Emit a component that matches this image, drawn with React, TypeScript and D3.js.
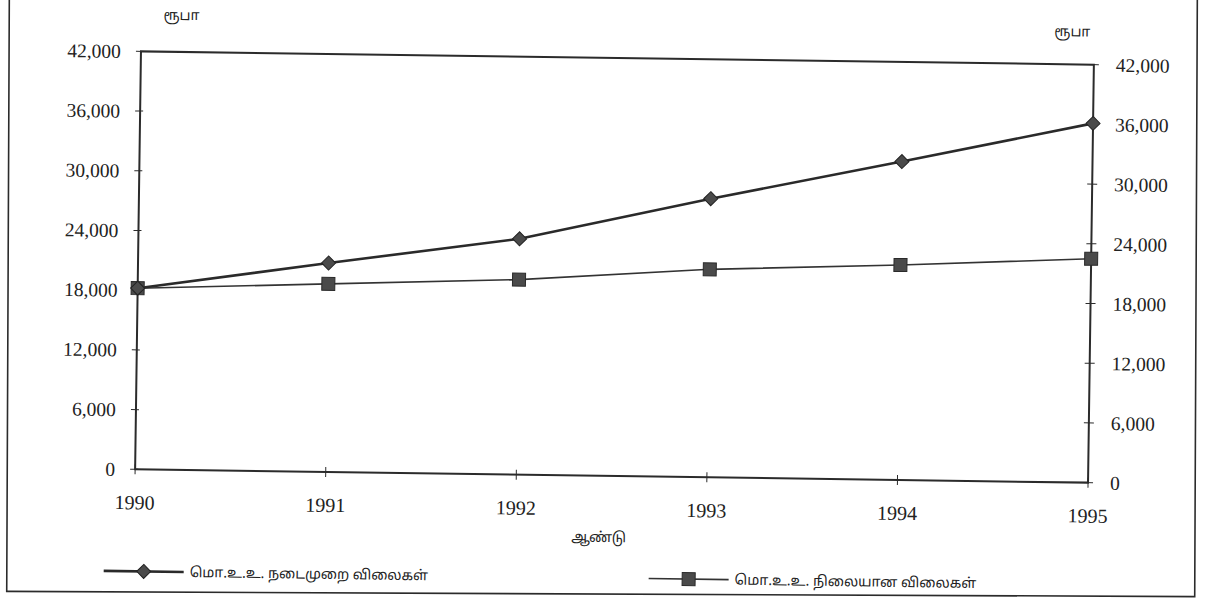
import * as d3 from "d3";

// ஆண்டு வாரியான மொ.உ.உ. (ரூபா)
const years = ["1990", "1991", "1992", "1993", "1994", "1995"];
const currentPrices = [18200, 21000, 23700, 28000, 32000, 36100];
const constantPrices = [18200, 18900, 19600, 20900, 21600, 22500];
const yTicks = [0, 6000, 12000, 18000, 24000, 30000, 36000, 42000];

const unitLabel = "ரூபா";
const xTitle = "ஆண்டு";
const legendCurrent = "மொ.உ.உ. நடைமுறை விலைகள்";
const legendConstant = "மொ.உ.உ. நிலையான விலைகள்";

const W = 1208;
const H = 609;
const margin = { top: 58, right: 117, bottom: 133, left: 138 };
const serif = "'Liberation Serif', 'Times New Roman', serif";
const tamil = "'Noto Sans Tamil', 'Lohit Tamil', 'Latha', 'Noto Sans', sans-serif";
const ink = "#2b2b2b";

const App = () => {
  const x = d3
    .scalePoint<string>()
    .domain(years)
    .range([margin.left, W - margin.right]);
  const y = d3
    .scaleLinear()
    .domain([0, 42000])
    .range([H - margin.bottom, margin.top]);

  const fmt = d3.format(",");
  const line = d3
    .line<number>()
    .x((_, i) => x(years[i]) as number)
    .y((d) => y(d));

  const x0 = margin.left;
  const x1 = W - margin.right;
  const y0 = y(0);
  const yTop = y(42000);
  const cx = (x0 + x1) / 2;
  const cy = (y0 + yTop) / 2;

  const diamond = (px: number, py: number, r: number) =>
    `M${px},${py - r}L${px + r},${py}L${px},${py + r}L${px - r},${py}Z`;

  return (
    <svg
      width={W}
      height={H}
      style={{ position: "absolute", left: 0, top: 0, background: "#fff" }}
    >
      {/* page frame */}
      <rect
        x={8}
        y={-20}
        width={1188}
        height={614}
        fill="none"
        stroke={ink}
        strokeWidth={1.6}
        transform="rotate(0.25, 600, 300)"
      />

      {/* the scan is slightly tilted */}
      <g transform={`rotate(0.8, ${cx}, ${cy})`}>
        {/* plot box: top, left, bottom, right */}
        <path
          d={`M${x0},${y0}V${yTop}H${x1}V${y0}Z`}
          fill="none"
          stroke={ink}
          strokeWidth={2}
        />

        {/* left axis */}
        {yTicks.map((t) => (
          <g key={"l" + t}>
            <line x1={x0 - 5} x2={x0 + 3} y1={y(t)} y2={y(t)} stroke={ink} strokeWidth={1} />
            <text
              x={x0 - 20}
              y={y(t)}
              dy="0.35em"
              textAnchor="end"
              fontFamily={serif}
              fontSize={19.5}
              fill="#222"
            >
              {fmt(t)}
            </text>
          </g>
        ))}

        {/* right axis */}
        {yTicks.map((t) => (
          <g key={"r" + t}>
            <line x1={x1 - 5} x2={x1 + 5} y1={y(t)} y2={y(t)} stroke={ink} strokeWidth={1} />
            <text
              x={x1 + 22}
              y={y(t)}
              dy="0.35em"
              textAnchor="start"
              fontFamily={serif}
              fontSize={19.5}
              fill="#222"
            >
              {fmt(t)}
            </text>
          </g>
        ))}

        {/* x axis */}
        {years.map((yr) => (
          <g key={yr}>
            <line
              x1={x(yr)}
              x2={x(yr)}
              y1={y0 - 5}
              y2={y0 + 5}
              stroke={ink}
              strokeWidth={1}
            />
            <text
              x={x(yr)}
              y={y0 + 33}
              dy="0.35em"
              textAnchor="middle"
              fontFamily={serif}
              fontSize={20}
              fill="#222"
            >
              {yr}
            </text>
          </g>
        ))}

        <text
          x={cx - 12}
          y={y0 + 66}
          textAnchor="middle"
          fontFamily={tamil}
          fontSize={14}
          fill="#222"
        >
          {xTitle}
        </text>
        <text x={x0 + 22} y={yTop - 32} fontFamily={tamil} fontSize={14} fill="#222">
          {unitLabel}
        </text>
        <text
          x={x1 - 4}
          y={yTop - 28}
          textAnchor="end"
          fontFamily={tamil}
          fontSize={14}
          fill="#222"
        >
          {unitLabel}
        </text>

        {/* series */}
        <path d={line(constantPrices) || ""} fill="none" stroke="#333" strokeWidth={1.6} />
        <path d={line(currentPrices) || ""} fill="none" stroke="#2a2a2a" strokeWidth={2.6} />

        {constantPrices.map((v, i) => (
          <rect
            key={"s" + i}
            x={(x(years[i]) as number) - 6.5}
            y={y(v) - 6.5}
            width={13}
            height={13}
            fill="#4a4a4a"
            stroke="#2a2a2a"
            strokeWidth={1}
          />
        ))}
        {currentPrices.map((v, i) => (
          <path
            key={"d" + i}
            d={diamond(x(years[i]) as number, y(v), 7)}
            fill="#4a4a4a"
            stroke="#222"
            strokeWidth={1}
          />
        ))}

        {/* legend */}
        <g transform={`translate(${x0 - 30}, ${y0 + 102})`}>
          <line x1={0} x2={80} y1={0} y2={0} stroke="#2a2a2a" strokeWidth={2.6} />
          <path d={diamond(40, 0, 7)} fill="#4a4a4a" stroke="#222" strokeWidth={1} />
          <text x={86} y={0} dy="0.35em" fontFamily={tamil} fontSize={14} fill="#222">
            {legendCurrent}
          </text>
        </g>
        <g transform={`translate(${x0 + 515}, ${y0 + 102})`}>
          <line x1={0} x2={80} y1={0} y2={0} stroke="#333" strokeWidth={1.6} />
          <rect x={33.5} y={-6.5} width={13} height={13} fill="#4a4a4a" stroke="#2a2a2a" />
          <text x={86} y={0} dy="0.35em" fontFamily={tamil} fontSize={14} fill="#222">
            {legendConstant}
          </text>
        </g>
      </g>
    </svg>
  );
};

export default App;
